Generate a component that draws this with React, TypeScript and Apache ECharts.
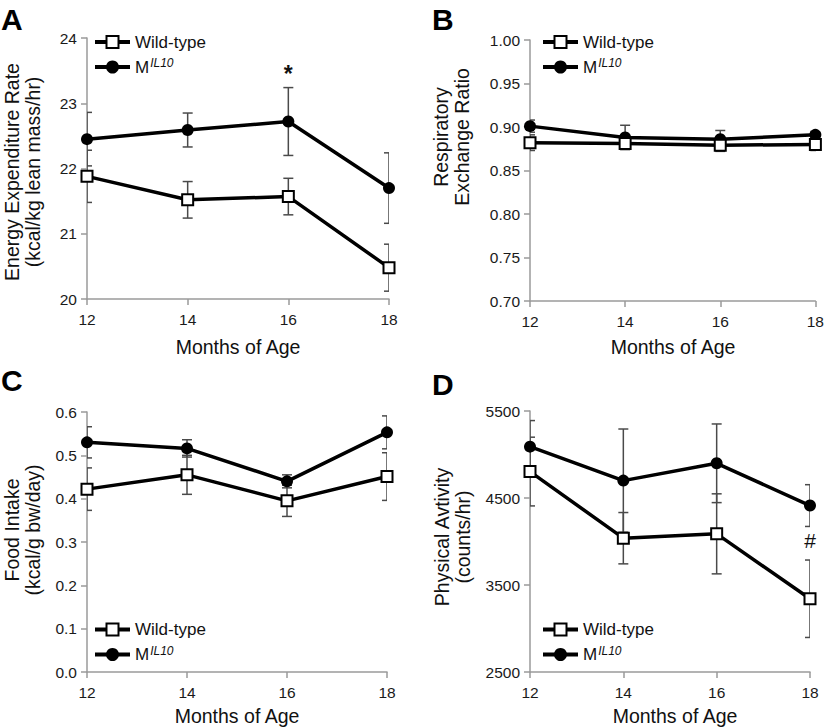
import React, { useEffect, useRef } from "react";
import * as echarts from "echarts";

const months = [12, 14, 16, 18];

// A: Energy expenditure
const eeWT = [21.88, 21.52, 21.57, 20.48];
const eeWTErr = [0.4, 0.28, 0.28, 0.36];
const eeM = [22.45, 22.59, 22.72, 21.7];
const eeMErr = [0.41, 0.26, 0.52, 0.54];

// B: Respiratory exchange ratio
const rerWT = [0.882, 0.881, 0.879, 0.88];
const rerWTErr = [0.009, 0.006, 0.007, 0.007];
const rerM = [0.901, 0.888, 0.886, 0.891];
const rerMErr = [0.007, 0.014, 0.01, 0.004];

// C: Food intake
const fiWT = [0.422, 0.455, 0.395, 0.451];
const fiWTErr = [0.049, 0.045, 0.036, 0.055];
const fiM = [0.53, 0.516, 0.44, 0.553];
const fiMErr = [0.036, 0.02, 0.015, 0.038];

// D: Physical activity
const paWT = [4804, 4038, 4088, 3342];
const paWTErr = [395, 295, 460, 445];
const paM = [5090, 4700, 4899, 4413];
const paMErr = [300, 593, 452, 240];

const seriesNames = ["Wild-type", "MIL10"];
const xTitle = "Months of Age";
const yTitles = [
  "Energy Expenditure Rate\n(kcal/kg lean mass/hr)",
  "Respiratory\nExchange Ratio",
  "Food Intake\n(kcal/g bw/day)",
  "Physical Avtivity\n(counts/hr)",
];
const panelLetters = ["A", "B", "C", "D"];
const yRanges = [
  { min: 20, max: 24, interval: 1, digits: 0 },
  { min: 0.7, max: 1.0, interval: 0.05, digits: 2 },
  { min: 0, max: 0.6, interval: 0.1, digits: 1 },
  { min: 2500, max: 5500, interval: 1000, digits: 0 },
];

const FONT = "Liberation Sans, Arial, sans-serif";

export default function App() {
  const ref = useRef<HTMLDivElement>(null);

  useEffect(() => {
    document.body.style.margin = "0";
    const chart = echarts.init(ref.current!, null, { renderer: "svg" });

    const grids = [
      { left: 87, top: 38, width: 302, height: 261 },
      { left: 530, top: 40, width: 286, height: 261 },
      { left: 87, top: 412, width: 300, height: 260 },
      { left: 530, top: 411, width: 280, height: 261 },
    ];

    const axisColor = "#9a9a9a";
    const xAxes = grids.map((_, i) => ({
      type: "value",
      gridIndex: i,
      min: 12,
      max: 18,
      interval: 2,
      axisLine: { show: true, lineStyle: { color: axisColor, width: 1.5 } },
      axisTick: { show: true, length: 6, lineStyle: { color: axisColor, width: 1.5 } },
      splitLine: { show: false },
      axisLabel: { color: "#1a1a1a", fontSize: 15.5, fontFamily: FONT, margin: 12 },
    }));
    const yAxes = yRanges.map((r, i) => ({
      type: "value",
      gridIndex: i,
      min: r.min,
      max: r.max,
      interval: r.interval,
      axisLine: { show: true, lineStyle: { color: axisColor, width: 1.5 } },
      axisTick: { show: true, length: 6, lineStyle: { color: axisColor, width: 1.5 } },
      splitLine: { show: false },
      axisLabel: {
        color: "#1a1a1a",
        fontSize: 15.5,
        fontFamily: FONT,
        margin: 10,
        formatter: (v: number) => v.toFixed(r.digits),
      },
    }));

    const panels = [
      { wt: eeWT, wtE: eeWTErr, m: eeM, mE: eeMErr },
      { wt: rerWT, wtE: rerWTErr, m: rerM, mE: rerMErr },
      { wt: fiWT, wtE: fiWTErr, m: fiM, mE: fiMErr },
      { wt: paWT, wtE: paWTErr, m: paM, mE: paMErr },
    ];

    const errRender = (params: any, api: any) => {
      const x = api.value(0);
      const y = api.value(1);
      const e = api.value(2);
      const top = api.coord([x, y + e]);
      const bot = api.coord([x, y - e]);
      const w = 5;
      const style = { stroke: "#4a4a4a", lineWidth: 1.5 };
      return {
        type: "group",
        children: [
          { type: "line", shape: { x1: top[0], y1: top[1], x2: bot[0], y2: bot[1] }, style },
          { type: "line", shape: { x1: top[0] - w, y1: top[1], x2: top[0] + w, y2: top[1] }, style },
          { type: "line", shape: { x1: bot[0] - w, y1: bot[1], x2: bot[0] + w, y2: bot[1] }, style },
        ],
      };
    };

    const series: any[] = [];
    panels.forEach((p, i) => {
      series.push({
        type: "custom",
        name: "errWT" + i,
        xAxisIndex: i,
        yAxisIndex: i,
        clip: true,
        z: 1,
        renderItem: errRender,
        encode: { x: 0, y: 1 },
        data: months.map((m, k) => [m, p.wt[k], p.wtE[k]]),
      });
      series.push({
        type: "custom",
        name: "errM" + i,
        xAxisIndex: i,
        yAxisIndex: i,
        clip: true,
        z: 1,
        renderItem: errRender,
        encode: { x: 0, y: 1 },
        data: months.map((m, k) => [m, p.m[k], p.mE[k]]),
      });
      const mSeries: any = {
        type: "line",
        name: seriesNames[1],
        xAxisIndex: i,
        yAxisIndex: i,
        z: 3,
        symbol: "circle",
        symbolSize: 12,
        lineStyle: { color: "#000", width: 3.5 },
        itemStyle: { color: "#000", borderColor: "#000", borderWidth: 0 },
        data: months.map((m, k) => [m, p.m[k]]),
      };
      if (i === 0) {
        mSeries.markPoint = {
          symbol: "circle",
          symbolSize: 1,
          itemStyle: { color: "rgba(0,0,0,0)" },
          label: { show: true, formatter: "*", position: "inside", fontSize: 23, fontWeight: "bold", color: "#111", fontFamily: FONT },
          data: [{ coord: [16, 23.45] }],
        };
      }
      if (i === 3) {
        mSeries.markPoint = {
          symbol: "circle",
          symbolSize: 1,
          itemStyle: { color: "rgba(0,0,0,0)" },
          label: { show: true, formatter: "#", position: "inside", fontSize: 21, color: "#111", fontFamily: FONT },
          data: [{ coord: [18, 4010] }],
        };
      }
      series.push({
        type: "line",
        name: seriesNames[0],
        xAxisIndex: i,
        yAxisIndex: i,
        z: 4,
        symbol: "rect",
        symbolSize: 11,
        lineStyle: { color: "#000", width: 3.5 },
        itemStyle: { color: "#fff", borderColor: "#000", borderWidth: 2 },
        data: months.map((m, k) => [m, p.wt[k]]),
      });
      series.push(mSeries);
    });

    const graphics: any[] = [];

    // Legends (one per panel), drawn as graphic groups
    const legendPos = [
      [95, 42],
      [543, 42],
      [95, 629.5],
      [543, 629.5],
    ];
    const rowGap = 25;
    legendPos.forEach(([lx, ly]) => {
      const children: any[] = [];
      // Wild-type row
      children.push({ type: "line", shape: { x1: 0, y1: 0, x2: 35, y2: 0 }, style: { stroke: "#000", lineWidth: 4 } });
      children.push({ type: "rect", shape: { x: 17.5 - 6, y: -6, width: 12, height: 12 }, style: { fill: "#fff", stroke: "#000", lineWidth: 2 } });
      children.push({
        type: "text",
        x: 40,
        y: 0,
        style: { text: seriesNames[0], fontSize: 17, fontFamily: FONT, fill: "#111", align: "left", verticalAlign: "middle" },
      });
      // MIL10 row
      children.push({ type: "line", shape: { x1: 0, y1: rowGap, x2: 35, y2: rowGap }, style: { stroke: "#000", lineWidth: 4 } });
      children.push({ type: "circle", shape: { cx: 17.5, cy: rowGap, r: 6.5 }, style: { fill: "#000" } });
      children.push({
        type: "text",
        x: 40,
        y: rowGap,
        style: {
          text: "{m|M}{s|IL10}",
          fontSize: 17,
          fontFamily: FONT,
          fill: "#111",
          align: "left",
          verticalAlign: "middle",
          rich: {
            m: { fontFamily: FONT, fontSize: 17, fill: "#111", lineHeight: 20 },
            s: { fontFamily: FONT, fontSize: 12, fontStyle: "italic", fill: "#111", lineHeight: 12, verticalAlign: "top", padding: [0, 0, 0, 1] },
          },
        },
      });
      graphics.push({ type: "group", x: lx, y: ly, children });
    });

    const letterPos = [
      [1, 19],
      [432, 19],
      [1, 380],
      [432, 384],
    ];
    panelLetters.forEach((t, i) => {
      graphics.push({
        type: "text",
        x: letterPos[i][0],
        y: letterPos[i][1],
        style: { text: t, fontSize: 30, fontWeight: "bold", fontFamily: FONT, fill: "#000", align: "left", verticalAlign: "middle" },
      });
    });
    const xTitlePos = [
      [238, 347],
      [673, 347],
      [237, 716],
      [675, 716],
    ];
    xTitlePos.forEach((p) => {
      graphics.push({
        type: "text",
        x: p[0],
        y: p[1],
        style: { text: xTitle, fontSize: 19.5, fontFamily: FONT, fill: "#111", align: "center", verticalAlign: "middle" },
      });
    });
    const yTitlePos = [
      [22.5, 172],
      [451, 137],
      [22.5, 530],
      [452.5, 537],
    ];
    yTitles.forEach((t, i) => {
      graphics.push({
        type: "text",
        x: yTitlePos[i][0],
        y: yTitlePos[i][1],
        rotation: Math.PI / 2,
        style: { text: t, fontSize: 19.5, lineHeight: 21, fontFamily: FONT, fill: "#111", align: "center", verticalAlign: "middle" },
      });
    });

    chart.setOption({
      animation: false,
      backgroundColor: "#fff",
      textStyle: { fontFamily: FONT },
      grid: grids,
      xAxis: xAxes,
      yAxis: yAxes,
      series,
      graphic: graphics,
    });

    return () => chart.dispose();
  }, []);

  return <div ref={ref} style={{ position: "fixed", left: 0, top: 0, width: 827, height: 728 }} />;
}
